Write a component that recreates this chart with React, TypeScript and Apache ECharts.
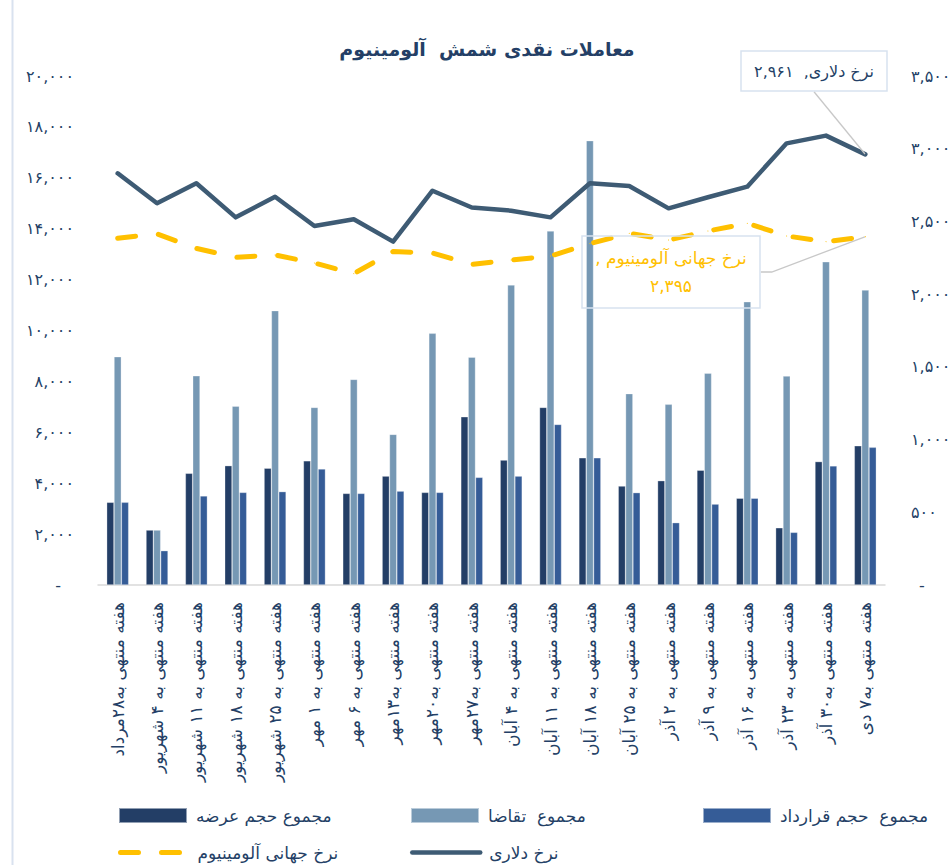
import React, { useEffect, useRef } from 'react';
import * as echarts from 'echarts';

const categories = [
  'هفته منتهی به۲۸مرداد',
  'هفته منتهی به ۴ شهریور',
  'هفته منتهی به ۱۱ شهریور',
  'هفته منتهی به ۱۸ شهریور',
  'هفته منتهی به ۲۵ شهریور',
  'هفته منتهی به ۱ مهر',
  'هفته منتهی به ۶ مهر',
  'هفته منتهی به۱۳مهر',
  'هفته منتهی به۲۰مهر',
  'هفته منتهی به۲۷مهر',
  'هفته منتهی به ۴ آبان',
  'هفته منتهی به ۱۱ آبان',
  'هفته منتهی به ۱۸ آبان',
  'هفته منتهی به ۲۵ آبان',
  'هفته منتهی به ۲ آذر',
  'هفته منتهی به ۹ آذر',
  'هفته منتهی به ۱۶ آذر',
  'هفته منتهی به ۲۳ آذر',
  'هفته منتهی به۳۰ آذر',
  'هفته منتهی به۷ دی',
];

const seriesNames = [
  'مجموع حجم عرضه',
  'مجموع  تقاضا',
  'مجموع  حجم قرارداد',
  'نرخ جهانی آلومینیوم',
  'نرخ دلاری',
];

const supply = [3250, 2160, 4390, 4690, 4590, 4880, 3600, 4280, 3640, 6610, 4910, 6980, 5000, 3890, 4100, 4510, 3410, 2250, 4850, 5470];
const demand = [8970, 2160, 8220, 7030, 10780, 6980, 8080, 5920, 9890, 8950, 11790, 13910, 17460, 7520, 7100, 8320, 11130, 8210, 12700, 11590];
const contract = [3250, 1350, 3500, 3640, 3670, 4560, 3600, 3690, 3640, 4230, 4280, 6310, 5000, 3630, 2450, 3180, 3410, 2070, 4680, 5410];
const globalPrice = [2384, 2414, 2315, 2253, 2269, 2214, 2141, 2293, 2283, 2204, 2235, 2262, 2347, 2418, 2372, 2434, 2487, 2400, 2361, 2395];
const dollarRate = [2831, 2625, 2762, 2528, 2670, 2469, 2515, 2361, 2711, 2596, 2574, 2528, 2762, 2744, 2590, 2666, 2739, 3037, 3090, 2961];

const leftTicks = ['-', '۲,۰۰۰', '۴,۰۰۰', '۶,۰۰۰', '۸,۰۰۰', '۱۰,۰۰۰', '۱۲,۰۰۰', '۱۴,۰۰۰', '۱۶,۰۰۰', '۱۸,۰۰۰', '۲۰,۰۰۰'];
const rightTicks = ['-', '۵۰۰', '۱,۰۰۰', '۱,۵۰۰', '۲,۰۰۰', '۲,۵۰۰', '۳,۰۰۰', '۳,۵۰۰'];

const title = 'معاملات نقدی شمش  آلومینیوم';

const FONT = "'DejaVu Sans', sans-serif";
const NAVY = '#243F66';
const C_SUPPLY = '#233E66';
const C_DEMAND = '#7698B4';
const C_CONTRACT = '#355C97';
const C_GLOBAL = '#FFC000';
const C_DOLLAR = '#3E5B74';
const GLOBAL_DASH = [18, 23];

const fa = (s: string) => s.replace(/[0-9]/g, (d) => '۰۱۲۳۴۵۶۷۸۹'[+d]);
const fmt = (n: number) => fa(n.toLocaleString('en-US'));

export default function App() {
  const ref = useRef<HTMLDivElement>(null);
  useEffect(() => {
    document.body.style.margin = '0';
    if (!ref.current) return;
    const chart = echarts.init(ref.current, undefined, { renderer: 'svg' });
    const last = categories.length - 1;

    const globalLabel = `${seriesNames[3]} ,\u200F\n${fmt(globalPrice[last])}`;
    const dollarLabel = `${seriesNames[4]},  ${fmt(dollarRate[last])}`;

    const barBase = {
      type: 'bar',
      barGap: '0%',
      barCategoryGap: '44%',
    };

    const legendLine: any[] = [
      {},
      {},
      {},
      { color: C_GLOBAL, width: 5, type: GLOBAL_DASH, cap: 'round' },
      { color: C_DOLLAR, width: 4.5, type: 'solid', cap: 'round' },
    ];

    const option: any = {
      animation: false,
      textStyle: { fontFamily: FONT },
      graphic: [
        {
          type: 'line',
          shape: { x1: 12.5, y1: 0, x2: 12.5, y2: 865 },
          style: { stroke: '#D9E2EF', lineWidth: 2 },
        },
        {
          type: 'text',
          x: 487,
          y: 49,
          style: {
            text: title,
            font: `bold 19px ${FONT}`,
            fill: NAVY,
            textAlign: 'center',
            textVerticalAlign: 'middle',
          },
        },
      ],
      grid: {
        left: 98,
        right: 67,
        top: 76,
        bottom: 280,
        containLabel: false,
        outerBoundsMode: 'none',
      },
      legend: [
        { idx: 0, left: 118, top: 807 },
        { idx: 1, left: 410, top: 807 },
        { idx: 2, left: 702, top: 807 },
        { idx: 3, left: 118, top: 844 },
        { idx: 4, left: 410, top: 844 },
      ].map((l) => ({
        data: [l.idx < 3 ? { name: seriesNames[l.idx], icon: 'rect' } : { name: seriesNames[l.idx] }],
        left: l.left,
        top: l.top,
        padding: 0,
        itemWidth: 68,
        itemHeight: 15,
        itemStyle: l.idx < 3 ? {} : { opacity: 0 },
        lineStyle: legendLine[l.idx],
        textStyle: { fontSize: 17, color: NAVY, fontFamily: FONT, padding: [0, 0, 0, 4] },
        selectedMode: false,
      })),
      xAxis: {
        type: 'category',
        data: categories,
        axisTick: { show: false },
        axisLine: { lineStyle: { color: '#D9D9D9', width: 1.5 } },
        axisLabel: {
          interval: 0,
          rotate: 90,
          fontSize: 17,
          color: NAVY,
          fontFamily: FONT,
          margin: 17,
        },
      },
      yAxis: [
        {
          type: 'value',
          min: 0,
          max: 20000,
          interval: 2000,
          splitLine: { show: false },
          axisLine: { show: false },
          axisTick: { show: false },
          axisLabel: {
            margin: 24,
            fontSize: 16,
            color: NAVY,
            fontFamily: FONT,
            formatter: (v: number) => {
              const i = Math.round(v / 2000);
              return i === 0 ? '{z|-}' : leftTicks[i];
            },
            rich: { z: { padding: [0, 13, 0, 0], fontSize: 16, color: NAVY, fontFamily: FONT } },
          },
        },
        {
          type: 'value',
          position: 'right',
          min: 0,
          max: 3500,
          interval: 500,
          splitLine: { show: false },
          axisLine: { show: false },
          axisTick: { show: false },
          axisLabel: {
            margin: 26,
            fontSize: 16,
            color: NAVY,
            fontFamily: FONT,
            formatter: (v: number) => {
              const i = Math.round(v / 500);
              return i === 0 ? '{z|-}' : rightTicks[i];
            },
            rich: { z: { padding: [0, 0, 0, 8], fontSize: 16, color: NAVY, fontFamily: FONT } },
          },
        },
      ],
      series: [
        {
          ...barBase,
          name: seriesNames[0],
          data: supply,
          itemStyle: { color: C_SUPPLY, borderColor: 'rgba(255,255,255,0.5)', borderWidth: 0.6 },
        },
        {
          ...barBase,
          name: seriesNames[1],
          data: demand,
          itemStyle: { color: C_DEMAND, borderColor: 'rgba(255,255,255,0.5)', borderWidth: 0.6 },
        },
        {
          ...barBase,
          name: seriesNames[2],
          data: contract,
          itemStyle: { color: C_CONTRACT, borderColor: 'rgba(255,255,255,0.5)', borderWidth: 0.6 },
        },
        {
          type: 'line',
          name: seriesNames[3],
          yAxisIndex: 1,
          symbol: 'circle',
          symbolSize: 1,
          showSymbol: true,
          itemStyle: { color: C_GLOBAL },
          lineStyle: { color: C_GLOBAL, width: 5, type: GLOBAL_DASH, cap: 'round', join: 'round' },
          label: { show: false },
          data: globalPrice.map((v, i) =>
            i === last
              ? {
                  value: v,
                  label: {
                    show: true,
                    formatter: globalLabel,
                    color: C_GLOBAL,
                    fontSize: 17,
                    lineHeight: 28,
                    fontFamily: FONT,
                    align: 'center',
                    width: 158,
                    padding: [8, 10],
                    borderColor: '#D8E2EF',
                    borderWidth: 1.5,
                  },
                  labelLine: { show: true, length2: 11, lineStyle: { color: '#C8C8C8', width: 1.3 } },
                }
              : v
          ),
          labelLayout: (p: any) =>
            p.dataIndex === last ? { x: 671, y: 272, align: 'center', verticalAlign: 'middle' } : {},
        },
        {
          type: 'line',
          name: seriesNames[4],
          yAxisIndex: 1,
          symbol: 'circle',
          symbolSize: 1,
          showSymbol: true,
          itemStyle: { color: C_DOLLAR },
          lineStyle: { color: C_DOLLAR, width: 4.5, cap: 'round', join: 'round' },
          label: { show: false },
          data: dollarRate.map((v, i) =>
            i === last
              ? {
                  value: v,
                  label: {
                    show: true,
                    formatter: dollarLabel,
                    color: NAVY,
                    fontSize: 16,
                    lineHeight: 24,
                    fontFamily: FONT,
                    align: 'center',
                    width: 126,
                    padding: [8, 10],
                    borderColor: '#D8E2EF',
                    borderWidth: 1.5,
                  },
                  labelLine: { show: true, length2: 0, lineStyle: { color: '#C8C8C8', width: 1.3 } },
                }
              : v
          ),
          labelLayout: (p: any) =>
            p.dataIndex === last ? { x: 814, y: 71, align: 'center', verticalAlign: 'middle' } : {},
        },
      ],
    };
    chart.setOption(option);
    return () => chart.dispose();
  }, []);
  return <div ref={ref} style={{ width: 952, height: 865 }} />;
}
